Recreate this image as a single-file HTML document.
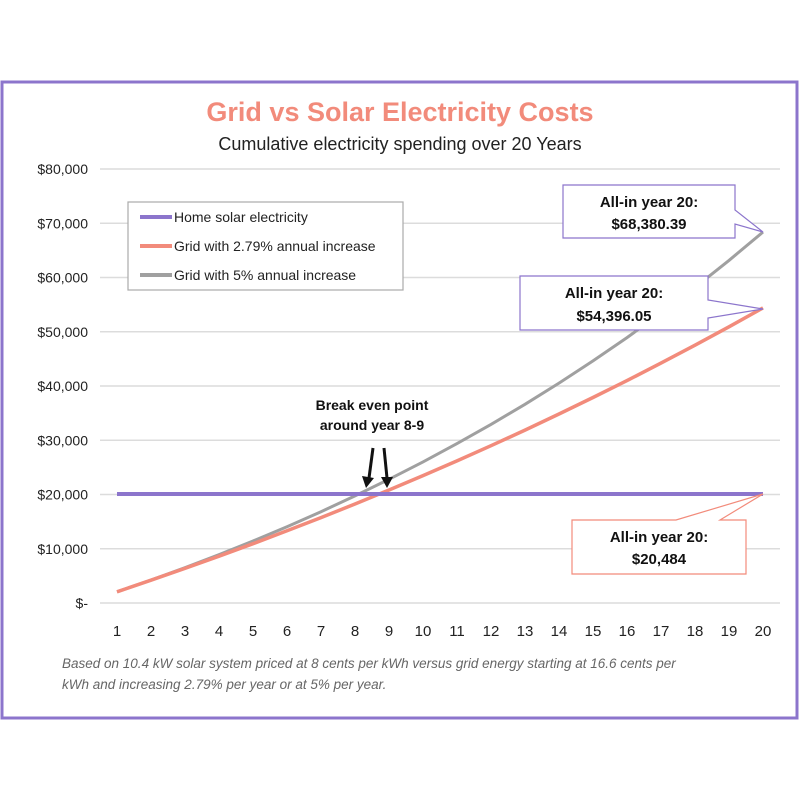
<!DOCTYPE html>
<html><head><meta charset="utf-8"><style>
body{margin:0;background:#fff;}
svg{display:block;font-family:"Liberation Sans",sans-serif;}
</style></head><body>
<svg id="s" width="800" height="800" viewBox="0 0 800 800">
<rect x="2" y="82" width="795" height="636" fill="#fff" stroke="#8c75cc" stroke-width="3"/>
<text x="400" y="121" text-anchor="middle" font-size="27" font-weight="bold" fill="#f28b7b">Grid vs Solar Electricity Costs</text>
<text x="400" y="150" text-anchor="middle" font-size="18" fill="#222">Cumulative electricity spending over 20 Years</text>
<g id="grid" stroke="#dcdcdc" stroke-width="1.5"></g>
<g id="ylab" font-size="14" fill="#222" text-anchor="end"></g>
<g id="xlab" font-size="15" fill="#222" text-anchor="middle"></g>
<path id="p5" fill="none" stroke="#a0a0a0" stroke-width="3"/>
<path id="p279" fill="none" stroke="#f28b7b" stroke-width="3.5"/>
<line x1="117" y1="494" x2="763" y2="494" stroke="#8c75cc" stroke-width="4"/>
<rect x="128" y="202" width="275" height="88" fill="#fff" stroke="#aaa" stroke-width="1.2"/>
<line x1="140" y1="217" x2="172" y2="217" stroke="#8c75cc" stroke-width="4"/>
<line x1="140" y1="246" x2="172" y2="246" stroke="#f28b7b" stroke-width="4"/>
<line x1="140" y1="275" x2="172" y2="275" stroke="#a0a0a0" stroke-width="4"/>
<g font-size="14" fill="#222"><text x="174" y="222">Home solar electricity</text><text x="174" y="251">Grid with 2.79% annual increase</text><text x="174" y="280">Grid with 5% annual increase</text></g>
<path d="M563,185 H735 V210 L763,232 L735,224 V238 H563 Z" fill="#fff" stroke="#8c75cc" stroke-width="1.2"/>
<text x="649" y="207" text-anchor="middle" font-size="15" font-weight="bold" fill="#111">All-in year 20:</text>
<text x="649" y="229" text-anchor="middle" font-size="15" font-weight="bold" fill="#111">$68,380.39</text>
<path d="M520,276 H708 V300 L763,309 L708,318 V330 H520 Z" fill="#fff" stroke="#8c75cc" stroke-width="1.2"/>
<text x="614" y="298" text-anchor="middle" font-size="15" font-weight="bold" fill="#111">All-in year 20:</text>
<text x="614" y="321" text-anchor="middle" font-size="15" font-weight="bold" fill="#111">$54,396.05</text>
<path d="M572,520 H676 L763,494 L720,520 H746 V574 H572 Z" fill="#fff" stroke="#f28b7b" stroke-width="1.2"/>
<text x="659" y="542" text-anchor="middle" font-size="15" font-weight="bold" fill="#111">All-in year 20:</text>
<text x="659" y="564" text-anchor="middle" font-size="15" font-weight="bold" fill="#111">$20,484</text>
<text x="372" y="410" text-anchor="middle" font-size="14" font-weight="bold" fill="#111">Break even point</text>
<text x="372" y="430" text-anchor="middle" font-size="14" font-weight="bold" fill="#111">around year 8-9</text>
<g stroke="#111" stroke-width="3"><line x1="373" y1="448" x2="369" y2="478"/><line x1="384" y1="448" x2="387" y2="478"/></g>
<g fill="#111"><polygon points="362,476 374,478 366,488"/><polygon points="381,477 393,477 387,488"/></g>
<g font-size="13.5" font-style="italic" fill="#666"><text x="62" y="668">Based on 10.4 kW solar system priced at 8 cents per kWh versus grid energy starting at 16.6 cents per</text><text x="62" y="689">kWh and increasing 2.79% per year or at 5% per year.</text></g>
</svg>
<script>
var NS="http://www.w3.org/2000/svg";
function el(p,t,a,txt){var e=document.createElementNS(NS,t);for(var k in a)e.setAttribute(k,a[k]);if(txt)e.textContent=txt;document.getElementById(p).appendChild(e);}
function Y(v){return 603-v*434/80000;}
function X(n){return 117+(n-1)*34;}
var labs=["$-","$10,000","$20,000","$30,000","$40,000","$50,000","$60,000","$70,000","$80,000"];
for(var i=0;i<=8;i++){var y=Y(i*10000);el("grid","line",{x1:100,x2:780,y1:y,y2:y});el("ylab","text",{x:88,y:y+5},labs[i]);}
for(var n=1;n<=20;n++)el("xlab","text",{x:X(n),y:636},String(n));
function path(r){var s=0,d="",a=2068;for(var n=1;n<=20;n++){s+=a*Math.pow(1+r,n-1);d+=(n==1?"M":"L")+X(n)+","+Y(s).toFixed(1);}return d;}
document.getElementById("p5").setAttribute("d",path(0.05));
document.getElementById("p279").setAttribute("d",path(0.0279));
</script>
</body></html>
